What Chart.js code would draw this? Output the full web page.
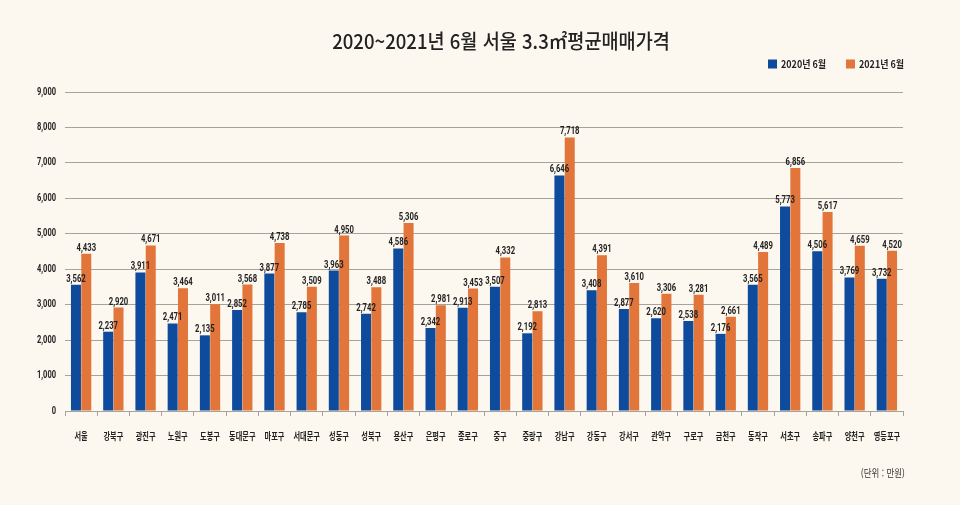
<!DOCTYPE html>
<html lang="ko">
<head>
<meta charset="utf-8">
<script src="https://cdn.jsdelivr.net/npm/chart.js@4.4.1/dist/chart.umd.min.js"></script>
<style>
  html, body { margin: 0; padding: 0; background: #fcf8ef; }
  #wrap { position: relative; width: 960px; height: 505px; overflow: hidden; }
  #title {
    position: absolute; left: 501px; top: 27px; white-space: nowrap;
    font-family: "Noto Sans CJK KR", sans-serif; font-size: 20px; line-height: 28px;
    font-weight: 500; color: #222; transform-origin: center center;
  }
  #unit {
    position: absolute; right: 55px; top: 466px; white-space: nowrap;
    font-family: "Noto Sans CJK KR", sans-serif; font-size: 10px; line-height: 14px;
    color: #333; transform-origin: right center; transform: scaleX(0.85);
  }
  canvas { position: absolute; left: 0; top: 0; }
</style>
</head>
<body>
<div id="wrap">
  <canvas id="chart" width="960" height="505"></canvas>
  <div id="title">2020~2021년 6월 서울 3.3㎡평균매매가격</div>
  <div id="unit">(단위 : 만원)</div>
</div>
<script>
var districts = ['서울', '강북구', '광진구', '노원구', '도봉구', '동대문구', '마포구', '서대문구', '성동구', '성북구', '용산구', '은평구', '종로구',
                 '중구', '중랑구', '강남구', '강동구', '강서구', '관악구', '구로구', '금천구', '동작구', '서초구', '송파구', '양천구', '영등포구'];
var price2020 = [3562, 2237, 3911, 2471, 2135, 2852, 3877, 2785, 3963, 2742, 4586, 2342, 2913,
                 3507, 2192, 6646, 3408, 2877, 2620, 2538, 2176, 3565, 5773, 4506, 3769, 3732];
var price2021 = [4433, 2920, 4671, 3464, 3011, 3568, 4738, 3509, 4950, 3488, 5306, 2981, 3453,
                 4332, 2813, 7718, 4391, 3610, 3306, 3281, 2661, 4489, 6856, 5617, 4659, 4520];
var seriesNames = ['2020년 6월', '2021년 6월'];
var yTicks = [0, 1000, 2000, 3000, 4000, 5000, 6000, 7000, 8000, 9000];

var BLUE = '#0e4b9c';
var ORANGE = '#e1753a';
var GRID = '#a4a39d';
var TEXT = '#222';

// title is squeezed to the width of the reference
var title = document.getElementById('title');
var sx = 338 / title.offsetWidth;
title.style.transform = 'translateX(-50%) scaleX(' + sx + ')';

function fmt(v) {
    return v.toLocaleString('en-US');
}

// narrow text: canvas has no condensed font, so squeeze horizontally
function narrowText(ctx, text, x, y, scale, align) {
    ctx.save();
    ctx.translate(x, y);
    ctx.scale(scale, 1);
    ctx.textAlign = align;
    ctx.fillText(text, 0, 0);
    ctx.restore();
}

var bgPlugin = {
    id: 'bg',
    beforeDraw: function(chart) {
        var ctx = chart.ctx;
        ctx.save();
        ctx.fillStyle = '#fcf8ef';
        ctx.fillRect(0, 0, chart.width, chart.height);
        ctx.restore();
    }
};

var labelPlugin = {
    id: 'labels',
    afterDraw: function(chart) {
        var ctx = chart.ctx;
        var xs = chart.scales.x, ys = chart.scales.y;
        ctx.save();
        ctx.fillStyle = TEXT;
        ctx.textBaseline = 'middle';

        // legend, top right
        ctx.font = 'bold 10px "Noto Sans CJK KR"';
        var legendX = [768, 846];
        var colors = [BLUE, ORANGE];
        seriesNames.forEach(function(name, i) {
            ctx.fillStyle = colors[i];
            ctx.fillRect(legendX[i], 59.5, 9, 9);
            ctx.fillStyle = TEXT;
            var k = 45 / ctx.measureText(name).width;
            narrowText(ctx, name, legendX[i] + 13, 64, k, 'left');
        });

        // y tick labels
        ctx.font = 'bold 10px Roboto';
        yTicks.forEach(function(v) {
            narrowText(ctx, fmt(v), 56, ys.getPixelForValue(v), 0.75, 'right');
        });

        // category labels
        ctx.font = 'bold 10px "Noto Sans CJK KR"';
        districts.forEach(function(name, i) {
            narrowText(ctx, name, xs.getPixelForValue(i), 436, 0.72, 'center');
        });

        // value labels above the bars
        ctx.font = 'bold 11px Roboto';
        ctx.textBaseline = 'alphabetic';
        chart.data.datasets.forEach(function(ds, d) {
            chart.getDatasetMeta(d).data.forEach(function(bar, i) {
                narrowText(ctx, fmt(ds.data[i]), bar.x, bar.y - 3, 0.7, 'center');
            });
        });
        ctx.restore();
    }
};

var ctx = document.getElementById('chart').getContext('2d');
var myChart = new Chart(ctx, {
    type: 'bar',
    data: {
        labels: districts,
        datasets: [{
            label: seriesNames[0],
            data: price2020,
            backgroundColor: BLUE,
            borderWidth: 0,
            categoryPercentage: 0.64,
            barPercentage: 0.97
        }, {
            label: seriesNames[1],
            data: price2021,
            backgroundColor: ORANGE,
            borderWidth: 0,
            categoryPercentage: 0.64,
            barPercentage: 0.97
        }]
    },
    options: {
        responsive: false,
        animation: false,
        layout: {
            padding: { top: 92, left: 0, right: 57, bottom: 0 }
        },
        plugins: {
            legend: { display: false },
            tooltip: { enabled: false }
        },
        scales: {
            x: {
                offset: true,
                grid: {
                    offset: true,
                    drawOnChartArea: false,
                    tickLength: 5,
                    color: GRID
                },
                border: { color: GRID },
                ticks: { display: false },
                afterFit: function(scale) { scale.height = 94; }
            },
            y: {
                min: 0,
                max: 9000,
                ticks: { display: false, stepSize: 1000 },
                grid: { drawTicks: false, color: GRID, lineWidth: 1 },
                border: { display: false },
                afterFit: function(scale) { scale.width = 65; }
            }
        }
    },
    plugins: [bgPlugin, labelPlugin]
});
</script>
</body>
</html>
